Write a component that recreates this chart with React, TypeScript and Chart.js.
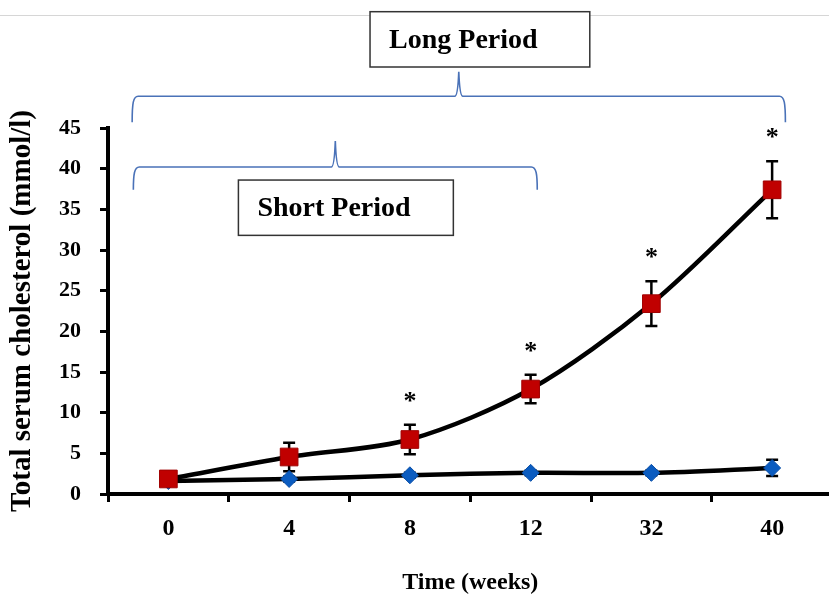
import React, { useEffect, useRef } from 'react';
import { Chart, registerables } from 'chart.js';

Chart.register(...registerables);

// ---- data ----
const weeks = ['0', '4', '8', '12', '32', '40'];
const hfdMean = [1.85, 4.55, 6.7, 12.9, 23.4, 37.4];
const hfdSE = [0.5, 1.75, 1.8, 1.75, 2.75, 3.5];
const hfdSignificant = [false, false, true, true, true, true];
const controlMean = [1.6, 1.85, 2.3, 2.6, 2.6, 3.2];
const controlSE = [0.2, 0.3, 0.3, 0.3, 0.3, 1.0];
const yMin = 0;
const yMax = 45;
const yStep = 5;
const longLabel = 'Long Period';
const shortLabel = 'Short Period';

const FONT = "'Times New Roman', 'Liberation Serif', serif";

function drawBrace(ctx: CanvasRenderingContext2D, x1: number, x2: number, yEnd: number, yBar: number, yTip: number) {
  const tip = (x1 + x2) / 2;
  ctx.beginPath();
  ctx.moveTo(x1, yEnd);
  ctx.bezierCurveTo(x1, yBar + 7, x1 + 1, yBar, x1 + 6, yBar);
  ctx.lineTo(tip - 4, yBar);
  ctx.quadraticCurveTo(tip - 1, yBar, tip, yTip);
  ctx.quadraticCurveTo(tip + 1, yBar, tip + 4, yBar);
  ctx.lineTo(x2 - 6, yBar);
  ctx.bezierCurveTo(x2 - 1, yBar, x2, yBar + 7, x2, yEnd);
  ctx.stroke();
}

function drawBox(ctx: CanvasRenderingContext2D, x1: number, y1: number, x2: number, y2: number, text: string) {
  ctx.save();
  ctx.fillStyle = '#fff';
  ctx.fillRect(x1, y1, x2 - x1, y2 - y1);
  ctx.strokeStyle = '#333';
  ctx.lineWidth = 1.5;
  ctx.strokeRect(x1, y1, x2 - x1, y2 - y1);
  ctx.fillStyle = '#000';
  ctx.font = `bold 28px ${FONT}`;
  ctx.textAlign = 'left';
  ctx.textBaseline = 'alphabetic';
  ctx.fillText(text, x1 + 19, y1 + 36);
  ctx.restore();
}

const overlayPlugin = {
  id: 'overlay',
  beforeDraw(chart: any) {
    const ctx = chart.ctx as CanvasRenderingContext2D;
    ctx.save();
    ctx.strokeStyle = '#d6d6d6';
    ctx.lineWidth = 1;
    ctx.beginPath();
    ctx.moveTo(0, 15.5);
    ctx.lineTo(chart.width, 15.5);
    ctx.stroke();
    ctx.restore();
  },
  beforeDatasetsDraw(chart: any) {
    const ctx = chart.ctx as CanvasRenderingContext2D;
    const ys = chart.scales.y;
    ctx.save();
    ctx.strokeStyle = '#000';
    ctx.lineWidth = 2.5;
    chart.data.datasets.forEach((ds: any, di: number) => {
      const meta = chart.getDatasetMeta(di);
      meta.data.forEach((pt: any, i: number) => {
        const v = ds.data[i];
        const e = ds.errors[i];
        const yt = ys.getPixelForValue(v + e);
        const yb = ys.getPixelForValue(v - e);
        ctx.beginPath();
        ctx.moveTo(pt.x, yt);
        ctx.lineTo(pt.x, yb);
        ctx.moveTo(pt.x - 6, yt);
        ctx.lineTo(pt.x + 6, yt);
        ctx.moveTo(pt.x - 6, yb);
        ctx.lineTo(pt.x + 6, yb);
        ctx.stroke();
      });
    });
    ctx.restore();
  },
  afterDatasetsDraw(chart: any) {
    const ctx = chart.ctx as CanvasRenderingContext2D;
    const ys = chart.scales.y;
    const ds = chart.data.datasets[0];
    const meta = chart.getDatasetMeta(0);
    ctx.save();
    ctx.fillStyle = '#000';
    ctx.font = `bold 26px ${FONT}`;
    ctx.textAlign = 'center';
    ctx.textBaseline = 'middle';
    meta.data.forEach((pt: any, i: number) => {
      if (!hfdSignificant[i]) return;
      const yt = ys.getPixelForValue(ds.data[i] + ds.errors[i]);
      ctx.fillText('*', pt.x, yt - 23);
    });
    ctx.restore();
  },
  afterDraw(chart: any) {
    const ctx = chart.ctx as CanvasRenderingContext2D;
    const xs = chart.scales.x;
    const ys = chart.scales.y;
    const X = (v: number) => xs.getPixelForValue(v);
    const Y = (v: number) => ys.getPixelForValue(v);
    ctx.save();
    ctx.strokeStyle = '#4a72b8';
    ctx.lineWidth = 1.6;
    // long period brace
    drawBrace(ctx, X(-0.3), X(5.11), Y(45.7), Y(48.9), Y(51.9));
    // short period brace
    drawBrace(ctx, X(-0.29), X(3.055), Y(37.4), Y(40.2), Y(43.4));
    ctx.restore();
    drawBox(ctx, X(1.67), Y(59.3), X(3.49), Y(52.5), longLabel);
    drawBox(ctx, X(0.58), Y(38.6), X(2.36), Y(31.8), shortLabel);
  },
};

export default function App() {
  const ref = useRef<HTMLCanvasElement>(null);

  useEffect(() => {
    if (!ref.current) return;
    const chart = new Chart(ref.current, {
      type: 'line',
      data: {
        labels: weeks,
        datasets: [
          {
            label: 'High-fat diet',
            data: hfdMean,
            errors: hfdSE,
            borderColor: '#000',
            borderWidth: 4.5,
            tension: 0.3,
            pointStyle: 'rect',
            pointRadius: 12.5,
            pointBackgroundColor: '#c00000',
            pointBorderColor: '#a00000',
            pointBorderWidth: 1,
            fill: false,
          } as any,
          {
            label: 'Control',
            data: controlMean,
            errors: controlSE,
            borderColor: '#000',
            borderWidth: 4.5,
            tension: 0.3,
            pointStyle: 'rectRot',
            pointRadius: 8.5,
            pointBackgroundColor: '#0b5cc0',
            pointBorderColor: '#0a4fa8',
            pointBorderWidth: 1,
            fill: false,
          } as any,
        ],
      },
      options: {
        animation: false,
        responsive: false,
        maintainAspectRatio: false,
        devicePixelRatio: 1,
        layout: { padding: { left: 0, top: 128, right: 2, bottom: 0 } },
        plugins: {
          legend: { display: false },
          tooltip: { enabled: false },
        },
        scales: {
          x: {
            type: 'category',
            offset: true,
            grid: {
              display: true,
              drawOnChartArea: false,
              drawTicks: true,
              tickLength: 8,
              color: '#000',
              lineWidth: 3,
              offset: true,
            },
            border: { display: true, color: '#000', width: 4 },
            ticks: {
              color: '#000',
              font: { family: FONT, size: 24, weight: 'bold' },
              padding: 12,
              maxRotation: 0,
              autoSkip: false,
            },
            title: {
              display: true,
              text: 'Time (weeks)',
              color: '#000',
              font: { family: FONT, size: 24, weight: 'bold' },
              padding: { top: 0, bottom: 1 },
            },
            afterFit: (s: any) => {
              s.height = 104;
            },
          },
          y: {
            min: yMin,
            max: yMax,
            ticks: {
              stepSize: yStep,
              color: '#000',
              font: { family: FONT, size: 22, weight: 'bold' },
              padding: 19,
            },
            grid: {
              display: true,
              drawOnChartArea: false,
              drawTicks: true,
              tickLength: 8,
              color: '#000',
              lineWidth: 3,
            },
            border: { display: true, color: '#000', width: 4 },
            title: {
              display: true,
              text: 'Total serum cholesterol (mmol/l)',
              color: '#000',
              font: { family: FONT, size: 29, weight: 'bold' },
              padding: { top: 5, bottom: 0 },
            },
            afterFit: (s: any) => {
              s.width = 108;
            },
          },
        },
      } as any,
      plugins: [overlayPlugin],
    });
    return () => chart.destroy();
  }, []);

  return (
    <div
      style={{
        position: 'absolute',
        left: 0,
        top: 0,
        width: 829,
        height: 598,
        overflow: 'hidden',
        background: '#fff',
      }}
    >
      <canvas ref={ref} width={846} height={598} style={{ display: 'block', width: 846, height: 598 }} />
    </div>
  );
}
